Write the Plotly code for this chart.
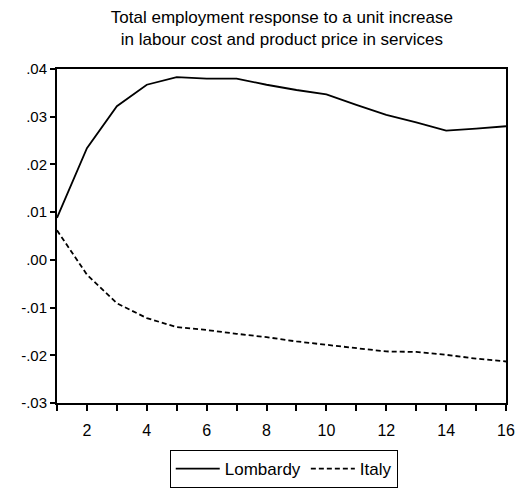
import plotly.graph_objects as go

periods = list(range(1, 17))
lombardy = [0.0088, 0.0234, 0.0322, 0.0367, 0.0383, 0.0380, 0.0380, 0.0367, 0.0356, 0.0347,
            0.0325, 0.0304, 0.0288, 0.0271, 0.0275, 0.0280]
italy = [0.0062, -0.0031, -0.0091, -0.0122, -0.0141, -0.0147, -0.0155, -0.0162, -0.0171, -0.0178,
         -0.0186, -0.0192, -0.0193, -0.0199, -0.0207, -0.0213]

x_tickvals = list(range(1, 17))
x_ticktext = ["" if v % 2 else str(v) for v in x_tickvals]
y_tickvals = [0.04, 0.03, 0.02, 0.01, 0.0, -0.01, -0.02, -0.03]
y_ticktext = [".04", ".03", ".02", ".01", ".00", "-.01", "-.02", "-.03"]

font_family = "Liberation Sans, Arial, sans-serif"

fig = go.Figure()
fig.add_trace(go.Scatter(x=periods, y=lombardy, mode="lines", name="Lombardy",
                         line=dict(color="black", width=1.8)))
fig.add_trace(go.Scatter(x=periods, y=italy, mode="lines", name="Italy",
                         line=dict(color="black", width=1.8, dash="5px,3px")))

fig.update_layout(
    width=522, height=488,
    margin=dict(l=57, r=16, t=69, b=85, autoexpand=False),
    paper_bgcolor="white", plot_bgcolor="white",
    font=dict(family=font_family, size=16, color="black"),
    title=dict(text="Total employment response to a unit increase<br>in labour cost and product price in services",
               x=0.54, xanchor="center", yref="container", y=0.953, yanchor="middle",
               font=dict(size=17, family=font_family, color="black")),
    showlegend=True,
    legend=dict(orientation="h", x=0.505, xanchor="center", yref="container", y=0.0, yanchor="bottom",
                bordercolor="black", borderwidth=1, bgcolor="white",
                font=dict(size=17, family=font_family, color="black"),
                itemwidth=44, tracegroupgap=0),
)
fig.update_xaxes(range=[1, 16], tickvals=x_tickvals, ticktext=x_ticktext,
                 showgrid=False, zeroline=False, showline=True, mirror=True,
                 linecolor="black", linewidth=2, ticks="outside", ticklen=6,
                 tickwidth=2, tickcolor="black", tickfont=dict(size=16),
                 ticklabelstandoff=6, automargin=False)
fig.update_yaxes(range=[-0.03, 0.04], tickvals=y_tickvals, ticktext=y_ticktext,
                 showgrid=False, zeroline=False, showline=True, mirror=True,
                 linecolor="black", linewidth=2, ticks="outside", ticklen=5,
                 tickwidth=2, tickcolor="black", tickfont=dict(size=15), automargin=False)

fig.write_html("out.html")
